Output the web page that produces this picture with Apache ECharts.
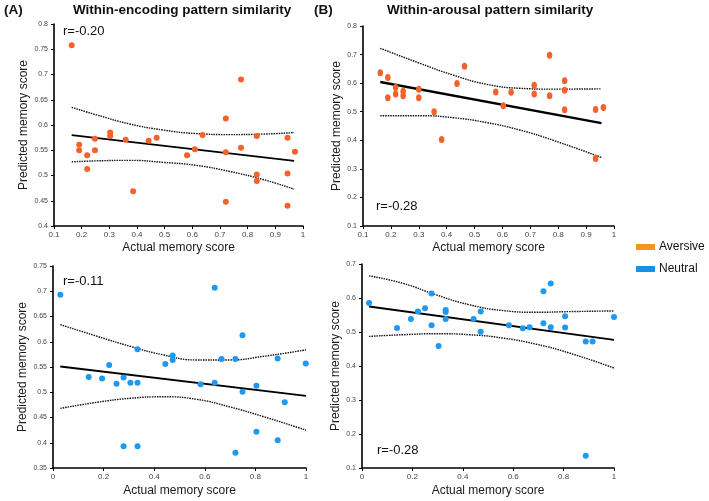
<!DOCTYPE html>
<html><head><meta charset="utf-8">
<script src="https://cdn.jsdelivr.net/npm/echarts@6/dist/echarts.min.js"></script>
<style>html,body{margin:0;padding:0;background:#fff}#c{width:709px;height:501px}</style>
</head><body><div id="c"></div><script>
// ---- Panel A top: Within-encoding, Aversive ----
const encAversive = [[0.164,0.758],[0.191,0.561],[0.191,0.550],[0.220,0.540],[0.220,0.513],[0.248,0.573],[0.248,0.550],[0.303,0.585],[0.303,0.578],[0.359,0.571],[0.386,0.469],[0.442,0.569],[0.471,0.575],[0.581,0.540],[0.609,0.552],[0.637,0.580],[0.721,0.613],[0.721,0.546],[0.721,0.448],[0.776,0.690],[0.776,0.555],[0.833,0.578],[0.833,0.502],[0.833,0.489],[0.944,0.575],[0.944,0.504],[0.944,0.440],[0.971,0.547]];
const encAversiveFit = [[0.164,0.580],[0.968,0.529]];
const encAversiveUpper = [[0.164,0.635],[0.254,0.620],[0.374,0.602],[0.495,0.590],[0.615,0.583],[0.735,0.581],[0.856,0.582],[0.968,0.585]];
const encAversiveLower = [[0.164,0.527],[0.254,0.529],[0.374,0.530],[0.495,0.526],[0.615,0.520],[0.735,0.508],[0.856,0.492],[0.968,0.473]];
// ---- Panel B top: Within-arousal, Aversive ----
const arAversive = [[0.162,0.636],[0.189,0.620],[0.189,0.549],[0.217,0.585],[0.217,0.562],[0.244,0.572],[0.244,0.556],[0.300,0.579],[0.300,0.549],[0.355,0.500],[0.382,0.403],[0.437,0.599],[0.464,0.659],[0.576,0.569],[0.603,0.521],[0.631,0.568],[0.714,0.593],[0.714,0.562],[0.769,0.698],[0.769,0.556],[0.823,0.608],[0.823,0.575],[0.823,0.507],[0.934,0.508],[0.934,0.336],[0.962,0.515]];
const arAversiveFit = [[0.162,0.604],[0.955,0.460]];
const arAversiveUpper = [[0.162,0.722],[0.305,0.669],[0.424,0.628],[0.543,0.596],[0.662,0.582],[0.782,0.579],[0.955,0.580]];
const arAversiveLower = [[0.162,0.486],[0.305,0.486],[0.424,0.479],[0.543,0.462],[0.662,0.436],[0.782,0.400],[0.955,0.340]];
// ---- Panel A bottom: Within-encoding, Neutral ----
const encNeutral = [[0.029,0.693],[0.141,0.530],[0.194,0.527],[0.222,0.554],[0.251,0.517],[0.279,0.529],[0.279,0.393],[0.306,0.519],[0.334,0.585],[0.334,0.519],[0.334,0.393],[0.444,0.556],[0.473,0.573],[0.473,0.564],[0.583,0.516],[0.639,0.707],[0.639,0.519],[0.666,0.566],[0.721,0.566],[0.721,0.380],[0.749,0.613],[0.749,0.501],[0.804,0.513],[0.804,0.422],[0.888,0.567],[0.888,0.405],[0.916,0.480],[0.999,0.557]];
const encNeutralFit = [[0.029,0.551],[1.0,0.493]];
const encNeutralUpper = [[0.029,0.634],[0.173,0.611],[0.305,0.591],[0.436,0.574],[0.568,0.564],[0.699,0.564],[0.830,0.571],[1.0,0.584]];
const encNeutralLower = [[0.029,0.468],[0.173,0.480],[0.305,0.488],[0.436,0.491],[0.568,0.486],[0.699,0.471],[0.830,0.452],[1.0,0.425]];
// ---- Panel B bottom: Within-arousal, Neutral ----
const arNeutral = [[0.028,0.585],[0.139,0.512],[0.194,0.538],[0.222,0.560],[0.250,0.570],[0.276,0.613],[0.276,0.520],[0.304,0.459],[0.332,0.565],[0.332,0.559],[0.332,0.538],[0.443,0.538],[0.471,0.560],[0.471,0.501],[0.583,0.520],[0.638,0.511],[0.665,0.514],[0.720,0.620],[0.720,0.526],[0.749,0.643],[0.749,0.514],[0.806,0.546],[0.806,0.513],[0.888,0.472],[0.888,0.136],[0.915,0.472],[1.0,0.544]];
const arNeutralFit = [[0.028,0.575],[1.0,0.477]];
const arNeutralUpper = [[0.028,0.665],[0.163,0.643],[0.295,0.609],[0.427,0.580],[0.560,0.563],[0.692,0.558],[0.824,0.560],[1.0,0.562]];
const arNeutralLower = [[0.028,0.487],[0.163,0.492],[0.295,0.495],[0.427,0.492],[0.560,0.482],[0.692,0.464],[0.824,0.438],[1.0,0.394]];
// ---- labels ----
const panelTitles = ['(A)', 'Within-encoding pattern similarity', '(B)', 'Within-arousal pattern similarity'];
const rLabels = ['r=-0.20', 'r=-0.28', 'r=-0.11', 'r=-0.28'];
const legendNames = ['Aversive', 'Neutral'];
const xName = 'Actual memory score';
const yName = 'Predicted memory score';

const ORANGE = '#F4622B', BLUE = '#1E98F0';
const FONT = 'Liberation Sans, Arial, sans-serif';

function xAx(g, min, max, interval, gap) {
  return {type:'value', gridIndex:g, min, max, interval, name:xName, nameLocation:'middle', nameGap:gap,
    nameTextStyle:{fontSize:12, color:'#1a1a1a', fontFamily:FONT},
    axisLine:{onZero:false, lineStyle:{color:'#000', width:1.6}},
    axisTick:{show:true, length:3, lineStyle:{color:'#000', width:1}},
    axisLabel:{fontSize:8, color:'#444', margin:5, fontFamily:FONT},
    splitLine:{show:false}};
}
function yAx(g, min, max, interval, gap) {
  return {type:'value', gridIndex:g, min, max, interval, name:yName, nameLocation:'middle', nameGap:gap,
    nameTextStyle:{fontSize:12, color:'#1a1a1a', fontFamily:FONT},
    axisLine:{onZero:false, lineStyle:{color:'#000', width:1.6}},
    axisTick:{show:true, length:3, lineStyle:{color:'#000', width:1}},
    axisLabel:{fontSize:7, color:'#444', margin:6, fontFamily:FONT},
    splitLine:{show:false}};
}
function panelSeries(g, pts, fit, up, lo, color, size, fitW) {
  return [
    {type:'line', xAxisIndex:g, yAxisIndex:g, data:up, smooth:true, showSymbol:false, silent:true,
      lineStyle:{color:'#111', width:1.4, type:[1.5,1]}},
    {type:'line', xAxisIndex:g, yAxisIndex:g, data:lo, smooth:true, showSymbol:false, silent:true,
      lineStyle:{color:'#111', width:1.4, type:[1.5,1]}},
    {type:'line', xAxisIndex:g, yAxisIndex:g, data:fit, showSymbol:false, silent:true,
      lineStyle:{color:'#000', width:fitW}},
    {type:'scatter', xAxisIndex:g, yAxisIndex:g, data:pts, symbolSize:size, itemStyle:{color:color, opacity:1}, z:5}
  ];
}

const chart = echarts.init(document.getElementById('c'));
chart.setOption({
  animation:false,
  backgroundColor:'#fff',
  grid:[
    {left:54, top:24, width:249, height:202},
    {left:363, top:26, width:251, height:200},
    {left:53, top:266, width:253, height:202},
    {left:362, top:264, width:252, height:204}
  ],
  xAxis:[xAx(0,0.1,1,0.1,16), xAx(1,0.1,1,0.1,16), xAx(2,0,1,0.2,17), xAx(3,0,1,0.2,17)],
  yAxis:[yAx(0,0.4,0.8,0.05,24), yAx(1,0.1,0.8,0.1,20), yAx(2,0.35,0.75,0.05,24), yAx(3,0.1,0.7,0.1,20)],
  series:[].concat(
    panelSeries(0, encAversive, encAversiveFit, encAversiveUpper, encAversiveLower, ORANGE, 6, 1.8),
    panelSeries(1, arAversive, arAversiveFit, arAversiveUpper, arAversiveLower, ORANGE, [5.5,7], 2.4),
    panelSeries(2, encNeutral, encNeutralFit, encNeutralUpper, encNeutralLower, BLUE, 6, 1.8),
    panelSeries(3, arNeutral, arNeutralFit, arNeutralUpper, arNeutralLower, BLUE, 6, 1.8)
  ),
  graphic:[
    {type:'text', left:4, top:3, style:{text:panelTitles[0], font:'bold 13.5px '+FONT, fill:'#111'}},
    {type:'text', left:73, top:3, style:{text:panelTitles[1], font:'bold 13.5px '+FONT, fill:'#111'}},
    {type:'text', left:314, top:3, style:{text:panelTitles[2], font:'bold 13.5px '+FONT, fill:'#111'}},
    {type:'text', left:387, top:3, style:{text:panelTitles[3], font:'bold 13.5px '+FONT, fill:'#111'}},
    {type:'text', left:63, top:25, style:{text:rLabels[0], font:'13px '+FONT, fill:'#111'}},
    {type:'text', left:376, top:200, style:{text:rLabels[1], font:'13px '+FONT, fill:'#111'}},
    {type:'text', left:63, top:275, style:{text:rLabels[2], font:'13px '+FONT, fill:'#111'}},
    {type:'text', left:377, top:444, style:{text:rLabels[3], font:'13px '+FONT, fill:'#111'}},
    {type:'rect', left:636, top:244, shape:{width:19, height:6}, style:{fill:'#F7941D'}},
    {type:'text', left:659, top:241, style:{text:legendNames[0], font:'12px '+FONT, fill:'#111'}},
    {type:'rect', left:636, top:266, shape:{width:19, height:6}, style:{fill:'#1B8FE0'}},
    {type:'text', left:659, top:263, style:{text:legendNames[1], font:'12px '+FONT, fill:'#111'}}
  ]
});
</script></body></html>
